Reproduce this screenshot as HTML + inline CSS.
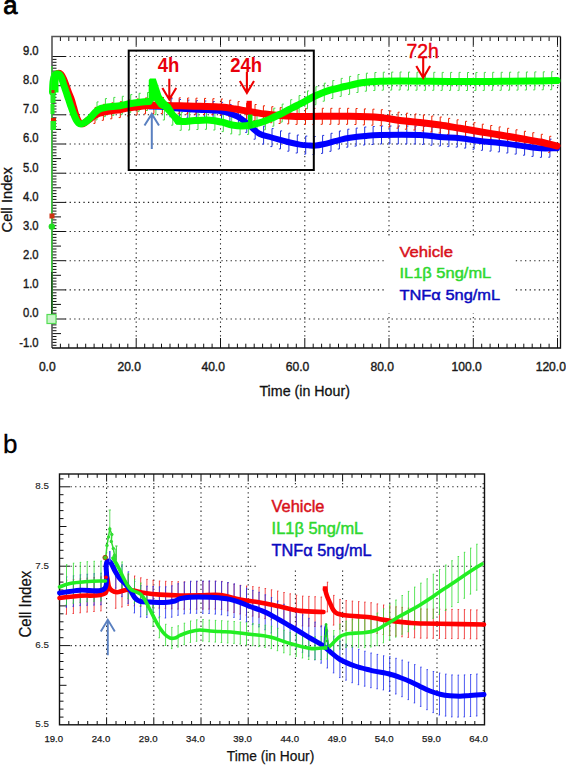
<!DOCTYPE html><html><head><meta charset="utf-8"><title>Cell Index</title><style>
html,body{margin:0;padding:0;background:#fff;}body{width:566px;height:765px;overflow:hidden;}
svg{display:block;}text{font-family:"Liberation Sans",sans-serif;}
</style></head><body>
<svg width="566" height="765" viewBox="0 0 566 765">
<rect width="566" height="765" fill="#fff"/>
<text x="3.2" y="13.8" font-size="25.5" fill="#000" stroke="#000" stroke-width="0.9">a</text>
<path d="M65,319 H560.5 M65,289.9 H560.5 M65,260.7 H560.5 M65,231.5 H560.5 M65,202.4 H560.5 M65,173.2 H560.5 M65,144 H560.5 M65,114.8 H560.5 M65,85.7 H560.5 M65,56.5 H560.5 M136.2,45.5 V338 M220.5,45.5 V338 M304.8,45.5 V338 M389,45.5 V338 M473.3,45.5 V338 M557.5,45.5 V338" stroke="#222" stroke-width="1.1" stroke-dasharray="1.3 3.3" fill="none"/>
<rect x="386" y="236" width="127" height="77" fill="#fff"/>
<path d="M60.4,36.5 v4.5 M60.4,348 v-4.3 M68.8,36.5 v4.5 M68.8,348 v-4.3 M77.3,36.5 v4.5 M77.3,348 v-4.3 M85.7,36.5 v4.5 M85.7,348 v-4.3 M94.1,36.5 v4.5 M94.1,348 v-4.3 M102.6,36.5 v4.5 M102.6,348 v-4.3 M111,36.5 v4.5 M111,348 v-4.3 M119.4,36.5 v4.5 M119.4,348 v-4.3 M127.8,36.5 v4.5 M127.8,348 v-4.3 M136.2,36.5 v9 M136.2,348 v-10 M144.7,36.5 v4.5 M144.7,348 v-4.3 M153.1,36.5 v4.5 M153.1,348 v-4.3 M161.5,36.5 v4.5 M161.5,348 v-4.3 M170,36.5 v4.5 M170,348 v-4.3 M178.4,36.5 v4.5 M178.4,348 v-4.3 M186.8,36.5 v4.5 M186.8,348 v-4.3 M195.2,36.5 v4.5 M195.2,348 v-4.3 M203.7,36.5 v4.5 M203.7,348 v-4.3 M212.1,36.5 v4.5 M212.1,348 v-4.3 M220.5,36.5 v9 M220.5,348 v-10 M228.9,36.5 v4.5 M228.9,348 v-4.3 M237.4,36.5 v4.5 M237.4,348 v-4.3 M245.8,36.5 v4.5 M245.8,348 v-4.3 M254.2,36.5 v4.5 M254.2,348 v-4.3 M262.6,36.5 v4.5 M262.6,348 v-4.3 M271.1,36.5 v4.5 M271.1,348 v-4.3 M279.5,36.5 v4.5 M279.5,348 v-4.3 M287.9,36.5 v4.5 M287.9,348 v-4.3 M296.3,36.5 v4.5 M296.3,348 v-4.3 M304.8,36.5 v9 M304.8,348 v-10 M313.2,36.5 v4.5 M313.2,348 v-4.3 M321.6,36.5 v4.5 M321.6,348 v-4.3 M330,36.5 v4.5 M330,348 v-4.3 M338.5,36.5 v4.5 M338.5,348 v-4.3 M346.9,36.5 v4.5 M346.9,348 v-4.3 M355.3,36.5 v4.5 M355.3,348 v-4.3 M363.7,36.5 v4.5 M363.7,348 v-4.3 M372.2,36.5 v4.5 M372.2,348 v-4.3 M380.6,36.5 v4.5 M380.6,348 v-4.3 M389,36.5 v9 M389,348 v-10 M397.4,36.5 v4.5 M397.4,348 v-4.3 M405.9,36.5 v4.5 M405.9,348 v-4.3 M414.3,36.5 v4.5 M414.3,348 v-4.3 M422.7,36.5 v4.5 M422.7,348 v-4.3 M431.1,36.5 v4.5 M431.1,348 v-4.3 M439.6,36.5 v4.5 M439.6,348 v-4.3 M448,36.5 v4.5 M448,348 v-4.3 M456.4,36.5 v4.5 M456.4,348 v-4.3 M464.8,36.5 v4.5 M464.8,348 v-4.3 M473.3,36.5 v9 M473.3,348 v-10 M481.7,36.5 v4.5 M481.7,348 v-4.3 M490.1,36.5 v4.5 M490.1,348 v-4.3 M498.5,36.5 v4.5 M498.5,348 v-4.3 M507,36.5 v4.5 M507,348 v-4.3 M515.4,36.5 v4.5 M515.4,348 v-4.3 M523.8,36.5 v4.5 M523.8,348 v-4.3 M532.2,36.5 v4.5 M532.2,348 v-4.3 M540.7,36.5 v4.5 M540.7,348 v-4.3 M549.1,36.5 v4.5 M549.1,348 v-4.3 M557.5,36.5 v9 M557.5,348 v-10 M52,345.3 h4.5 M52,342.4 h4.5 M52,339.4 h4.5 M52,336.5 h4.5 M52,333.6 h9 M52,330.7 h4.5 M52,327.8 h4.5 M52,324.9 h4.5 M52,321.9 h4.5 M52,319 h13.5 M52,316.1 h4.5 M52,313.2 h4.5 M52,310.3 h4.5 M52,307.4 h4.5 M52,304.4 h9 M52,301.5 h4.5 M52,298.6 h4.5 M52,295.7 h4.5 M52,292.8 h4.5 M52,289.9 h13.5 M52,286.9 h4.5 M52,284 h4.5 M52,281.1 h4.5 M52,278.2 h4.5 M52,275.3 h9 M52,272.4 h4.5 M52,269.4 h4.5 M52,266.5 h4.5 M52,263.6 h4.5 M52,260.7 h13.5 M52,257.8 h4.5 M52,254.9 h4.5 M52,251.9 h4.5 M52,249 h4.5 M52,246.1 h9 M52,243.2 h4.5 M52,240.3 h4.5 M52,237.4 h4.5 M52,234.4 h4.5 M52,231.5 h13.5 M52,228.6 h4.5 M52,225.7 h4.5 M52,222.8 h4.5 M52,219.9 h4.5 M52,216.9 h9 M52,214 h4.5 M52,211.1 h4.5 M52,208.2 h4.5 M52,205.3 h4.5 M52,202.4 h13.5 M52,199.4 h4.5 M52,196.5 h4.5 M52,193.6 h4.5 M52,190.7 h4.5 M52,187.8 h9 M52,184.8 h4.5 M52,181.9 h4.5 M52,179 h4.5 M52,176.1 h4.5 M52,173.2 h13.5 M52,170.3 h4.5 M52,167.3 h4.5 M52,164.4 h4.5 M52,161.5 h4.5 M52,158.6 h9 M52,155.7 h4.5 M52,152.8 h4.5 M52,149.8 h4.5 M52,146.9 h4.5 M52,144 h13.5 M52,141.1 h4.5 M52,138.2 h4.5 M52,135.3 h4.5 M52,132.3 h4.5 M52,129.4 h9 M52,126.5 h4.5 M52,123.6 h4.5 M52,120.7 h4.5 M52,117.8 h4.5 M52,114.8 h13.5 M52,111.9 h4.5 M52,109 h4.5 M52,106.1 h4.5 M52,103.2 h4.5 M52,100.3 h9 M52,97.3 h4.5 M52,94.4 h4.5 M52,91.5 h4.5 M52,88.6 h4.5 M52,85.7 h13.5 M52,82.8 h4.5 M52,79.8 h4.5 M52,76.9 h4.5 M52,74 h4.5 M52,71.1 h9 M52,68.2 h4.5 M52,65.3 h4.5 M52,62.3 h4.5 M52,59.4 h4.5 M52,56.5 h13.5" stroke="#111" stroke-width="1" fill="none"/>
<path d="M52,348 V36.5 H560.5" stroke="#555" stroke-width="1.6" fill="none"/>
<path d="M560.5,36.5 V348 H52" stroke="#111" stroke-width="1.3" fill="none"/>
<text transform="translate(38.6,346.5) scale(0.9,1)" font-size="12.5" fill="#1a1a1a" stroke="#1a1a1a" stroke-width="0.4" text-anchor="end">-1.0</text>
<text transform="translate(38.6,317.3) scale(0.9,1)" font-size="12.5" fill="#1a1a1a" stroke="#1a1a1a" stroke-width="0.4" text-anchor="end">0.0</text>
<text transform="translate(38.6,288.2) scale(0.9,1)" font-size="12.5" fill="#1a1a1a" stroke="#1a1a1a" stroke-width="0.4" text-anchor="end">1.0</text>
<text transform="translate(38.6,259) scale(0.9,1)" font-size="12.5" fill="#1a1a1a" stroke="#1a1a1a" stroke-width="0.4" text-anchor="end">2.0</text>
<text transform="translate(38.6,229.8) scale(0.9,1)" font-size="12.5" fill="#1a1a1a" stroke="#1a1a1a" stroke-width="0.4" text-anchor="end">3.0</text>
<text transform="translate(38.6,200.7) scale(0.9,1)" font-size="12.5" fill="#1a1a1a" stroke="#1a1a1a" stroke-width="0.4" text-anchor="end">4.0</text>
<text transform="translate(38.6,171.5) scale(0.9,1)" font-size="12.5" fill="#1a1a1a" stroke="#1a1a1a" stroke-width="0.4" text-anchor="end">5.0</text>
<text transform="translate(38.6,142.3) scale(0.9,1)" font-size="12.5" fill="#1a1a1a" stroke="#1a1a1a" stroke-width="0.4" text-anchor="end">6.0</text>
<text transform="translate(38.6,113.1) scale(0.9,1)" font-size="12.5" fill="#1a1a1a" stroke="#1a1a1a" stroke-width="0.4" text-anchor="end">7.0</text>
<text transform="translate(38.6,84) scale(0.9,1)" font-size="12.5" fill="#1a1a1a" stroke="#1a1a1a" stroke-width="0.4" text-anchor="end">8.0</text>
<text transform="translate(38.6,54.8) scale(0.9,1)" font-size="12.5" fill="#1a1a1a" stroke="#1a1a1a" stroke-width="0.4" text-anchor="end">9.0</text>
<text x="47.3" y="370.7" font-size="12.1" fill="#1a1a1a" stroke="#1a1a1a" stroke-width="0.4" text-anchor="middle">0.0</text>
<text x="129.2" y="370.7" font-size="12.1" fill="#1a1a1a" stroke="#1a1a1a" stroke-width="0.4" text-anchor="middle">20.0</text>
<text x="213.2" y="370.7" font-size="12.1" fill="#1a1a1a" stroke="#1a1a1a" stroke-width="0.4" text-anchor="middle">40.0</text>
<text x="297.6" y="370.7" font-size="12.1" fill="#1a1a1a" stroke="#1a1a1a" stroke-width="0.4" text-anchor="middle">60.0</text>
<text x="382.2" y="370.7" font-size="12.1" fill="#1a1a1a" stroke="#1a1a1a" stroke-width="0.4" text-anchor="middle">80.0</text>
<text x="466.6" y="370.7" font-size="12.1" fill="#1a1a1a" stroke="#1a1a1a" stroke-width="0.4" text-anchor="middle">100.0</text>
<text x="550.8" y="370.7" font-size="12.1" fill="#1a1a1a" stroke="#1a1a1a" stroke-width="0.4" text-anchor="middle">120.0</text>
<text x="304.7" y="395.7" font-size="14.6" fill="#111" stroke="#111" stroke-width="0.3" text-anchor="middle" textLength="90.5" lengthAdjust="spacingAndGlyphs">Time (in Hour)</text>
<text transform="translate(11.7,199.8) rotate(-90)" font-size="14.7" fill="#111" stroke="#111" stroke-width="0.3" text-anchor="middle">Cell Index</text>
<path d="M171,98.7 V116.7 M171,98.7 h1.6 M171,116.7 h-1.6 M179.4,99.5 V117.5 M179.4,99.5 h1.6 M179.4,117.5 h-1.6 M187.8,100.1 V118.1 M187.8,100.1 h1.6 M187.8,118.1 h-1.6 M196.3,100.6 V118.6 M196.3,100.6 h1.6 M196.3,118.6 h-1.6 M204.7,101 V119 M204.7,101 h1.6 M204.7,119 h-1.6 M213.1,101.5 V119.5 M213.1,101.5 h1.6 M213.1,119.5 h-1.6 M221.5,102.4 V120.4 M221.5,102.4 h1.6 M221.5,120.4 h-1.6 M229.9,104.5 V122.5 M229.9,104.5 h1.6 M229.9,122.5 h-1.6 M238.4,108.3 V126.3 M238.4,108.3 h1.6 M238.4,126.3 h-1.6 M246.8,114.4 V132.4 M246.8,114.4 h1.6 M246.8,132.4 h-1.6 M255.2,121.2 V139.2 M255.2,121.2 h1.6 M255.2,139.2 h-1.6 M263.6,126.1 V144.1 M263.6,126.1 h1.6 M263.6,144.1 h-1.6 M272,128.6 V146.6 M272,128.6 h1.6 M272,146.6 h-1.6 M280.5,130.9 V148.9 M280.5,130.9 h1.6 M280.5,148.9 h-1.6 M288.9,133.2 V151.2 M288.9,133.2 h1.6 M288.9,151.2 h-1.6 M297.3,135 V153 M297.3,135 h1.6 M297.3,153 h-1.6 M305.7,136.1 V154.1 M305.7,136.1 h1.6 M305.7,154.1 h-1.6 M314.1,136.5 V154.5 M314.1,136.5 h1.6 M314.1,154.5 h-1.6 M322.6,135.4 V153.4 M322.6,135.4 h1.6 M322.6,153.4 h-1.6 M331,133.3 V151.3 M331,133.3 h1.6 M331,151.3 h-1.6 M339.4,131 V149 M339.4,131 h1.6 M339.4,149 h-1.6 M347.8,129.2 V147.2 M347.8,129.2 h1.6 M347.8,147.2 h-1.6 M356.2,128.1 V146.1 M356.2,128.1 h1.6 M356.2,146.1 h-1.6 M364.7,127 V145 M364.7,127 h1.6 M364.7,145 h-1.6 M373.1,126.5 V144.5 M373.1,126.5 h1.6 M373.1,144.5 h-1.6 M381.5,126 V144 M381.5,126 h1.6 M381.5,144 h-1.6 M389.9,126 V144 M389.9,126 h1.6 M389.9,144 h-1.6 M398.3,126 V144 M398.3,126 h1.6 M398.3,144 h-1.6 M406.8,126 V144 M406.8,126 h1.6 M406.8,144 h-1.6 M415.2,126 V144 M415.2,126 h1.6 M415.2,144 h-1.6 M423.6,126.4 V144.4 M423.6,126.4 h1.6 M423.6,144.4 h-1.6 M432,127.2 V145.2 M432,127.2 h1.6 M432,145.2 h-1.6 M440.4,128 V146 M440.4,128 h1.6 M440.4,146 h-1.6 M448.9,128.6 V146.6 M448.9,128.6 h1.6 M448.9,146.6 h-1.6 M457.3,129.1 V147.1 M457.3,129.1 h1.6 M457.3,147.1 h-1.6 M465.7,130.1 V148.1 M465.7,130.1 h1.6 M465.7,148.1 h-1.6 M474.1,131.2 V149.2 M474.1,131.2 h1.6 M474.1,149.2 h-1.6 M482.5,132.3 V150.3 M482.5,132.3 h1.6 M482.5,150.3 h-1.6 M491,133.1 V151.1 M491,133.1 h1.6 M491,151.1 h-1.6 M499.4,133.9 V151.9 M499.4,133.9 h1.6 M499.4,151.9 h-1.6 M507.8,135 V153 M507.8,135 h1.6 M507.8,153 h-1.6 M516.2,136.1 V154.1 M516.2,136.1 h1.6 M516.2,154.1 h-1.6 M524.6,137.2 V155.2 M524.6,137.2 h1.6 M524.6,155.2 h-1.6 M533.1,138.4 V156.4 M533.1,138.4 h1.6 M533.1,156.4 h-1.6 M541.5,139.3 V157.3 M541.5,139.3 h1.6 M541.5,157.3 h-1.6 M549.9,139.2 V157.2 M549.9,139.2 h1.6 M549.9,157.2 h-1.6" stroke="#2233dd" stroke-width="1.0" fill="none" opacity="1.0"/>
<path d="M95,107.4 V123.4 M95,107.4 h1.6 M95,123.4 h-1.6 M103.4,104.3 V120.3 M103.4,104.3 h1.6 M103.4,120.3 h-1.6 M111.8,102.8 V118.8 M111.8,102.8 h1.6 M111.8,118.8 h-1.6 M120.3,101.6 V117.6 M120.3,101.6 h1.6 M120.3,117.6 h-1.6 M128.7,99.9 V115.9 M128.7,99.9 h1.6 M128.7,115.9 h-1.6 M137.1,98.9 V114.9 M137.1,98.9 h1.6 M137.1,114.9 h-1.6 M145.5,97.9 V113.9 M145.5,97.9 h1.6 M145.5,113.9 h-1.6 M153.9,97.5 V113.5 M153.9,97.5 h1.6 M153.9,113.5 h-1.6 M162.4,97.5 V113.5 M162.4,97.5 h1.6 M162.4,113.5 h-1.6 M170.8,97.6 V113.6 M170.8,97.6 h1.6 M170.8,113.6 h-1.6 M179.2,97.8 V113.8 M179.2,97.8 h1.6 M179.2,113.8 h-1.6 M187.6,98 V114 M187.6,98 h1.6 M187.6,114 h-1.6 M196,98.2 V114.2 M196,98.2 h1.6 M196,114.2 h-1.6 M204.5,98.4 V114.4 M204.5,98.4 h1.6 M204.5,114.4 h-1.6 M212.9,98.7 V114.7 M212.9,98.7 h1.6 M212.9,114.7 h-1.6 M221.3,99 V115 M221.3,99 h1.6 M221.3,115 h-1.6 M229.7,100.2 V116.2 M229.7,100.2 h1.6 M229.7,116.2 h-1.6 M238.1,101.6 V117.6 M238.1,101.6 h1.6 M238.1,117.6 h-1.6 M246.6,103.1 V119.1 M246.6,103.1 h1.6 M246.6,119.1 h-1.6 M255,104.5 V120.5 M255,104.5 h1.6 M255,120.5 h-1.6 M263.4,105.8 V121.8 M263.4,105.8 h1.6 M263.4,121.8 h-1.6 M271.8,106.7 V122.7 M271.8,106.7 h1.6 M271.8,122.7 h-1.6 M280.2,107.5 V123.5 M280.2,107.5 h1.6 M280.2,123.5 h-1.6 M288.7,107.9 V123.9 M288.7,107.9 h1.6 M288.7,123.9 h-1.6 M297.1,108.4 V124.4 M297.1,108.4 h1.6 M297.1,124.4 h-1.6 M305.5,108.4 V124.4 M305.5,108.4 h1.6 M305.5,124.4 h-1.6 M313.9,108.4 V124.4 M313.9,108.4 h1.6 M313.9,124.4 h-1.6 M322.3,108.3 V124.3 M322.3,108.3 h1.6 M322.3,124.3 h-1.6 M330.8,108.3 V124.3 M330.8,108.3 h1.6 M330.8,124.3 h-1.6 M339.2,108.3 V124.3 M339.2,108.3 h1.6 M339.2,124.3 h-1.6 M347.6,108.3 V124.3 M347.6,108.3 h1.6 M347.6,124.3 h-1.6 M356,108.5 V124.5 M356,108.5 h1.6 M356,124.5 h-1.6 M364.4,108.9 V124.9 M364.4,108.9 h1.6 M364.4,124.9 h-1.6 M372.9,109.2 V125.2 M372.9,109.2 h1.6 M372.9,125.2 h-1.6 M381.3,109.7 V125.7 M381.3,109.7 h1.6 M381.3,125.7 h-1.6 M389.7,111 V127 M389.7,111 h1.6 M389.7,127 h-1.6 M398.1,112.2 V128.2 M398.1,112.2 h1.6 M398.1,128.2 h-1.6 M406.5,113.2 V129.2 M406.5,113.2 h1.6 M406.5,129.2 h-1.6 M415,114 V130 M415,114 h1.6 M415,130 h-1.6 M423.4,114.9 V130.9 M423.4,114.9 h1.6 M423.4,130.9 h-1.6 M431.8,116 V132 M431.8,116 h1.6 M431.8,132 h-1.6 M440.2,117 V133 M440.2,117 h1.6 M440.2,133 h-1.6 M448.6,118.4 V134.4 M448.6,118.4 h1.6 M448.6,134.4 h-1.6 M457.1,119.8 V135.8 M457.1,119.8 h1.6 M457.1,135.8 h-1.6 M465.5,121.3 V137.3 M465.5,121.3 h1.6 M465.5,137.3 h-1.6 M473.9,122.7 V138.7 M473.9,122.7 h1.6 M473.9,138.7 h-1.6 M482.3,124.2 V140.2 M482.3,124.2 h1.6 M482.3,140.2 h-1.6 M490.7,125.5 V141.5 M490.7,125.5 h1.6 M490.7,141.5 h-1.6 M499.2,126.9 V142.9 M499.2,126.9 h1.6 M499.2,142.9 h-1.6 M507.6,128.3 V144.3 M507.6,128.3 h1.6 M507.6,144.3 h-1.6 M516,129.8 V145.8 M516,129.8 h1.6 M516,145.8 h-1.6 M524.4,131.3 V147.3 M524.4,131.3 h1.6 M524.4,147.3 h-1.6 M532.8,132.7 V148.7 M532.8,132.7 h1.6 M532.8,148.7 h-1.6 M541.3,134.3 V150.3 M541.3,134.3 h1.6 M541.3,150.3 h-1.6 M549.7,136.3 V152.3 M549.7,136.3 h1.6 M549.7,152.3 h-1.6" stroke="#ee2200" stroke-width="1.0" fill="none" opacity="1.0"/>
<path d="M97,101.9 V119.9 M97,101.9 h1.6 M97,119.9 h-1.6 M105.4,98.6 V116.6 M105.4,98.6 h1.6 M105.4,116.6 h-1.6 M113.8,97.4 V115.4 M113.8,97.4 h1.6 M113.8,115.4 h-1.6 M122.3,96.3 V114.3 M122.3,96.3 h1.6 M122.3,114.3 h-1.6 M130.7,94.6 V112.6 M130.7,94.6 h1.6 M130.7,112.6 h-1.6 M139.1,93.3 V111.3 M139.1,93.3 h1.6 M139.1,111.3 h-1.6 M147.5,92.5 V110.5 M147.5,92.5 h1.6 M147.5,110.5 h-1.6 M155.9,96.7 V114.7 M155.9,96.7 h1.6 M155.9,114.7 h-1.6 M164.4,102 V120 M164.4,102 h1.6 M164.4,120 h-1.6 M172.8,107.2 V125.2 M172.8,107.2 h1.6 M172.8,125.2 h-1.6 M181.2,112.3 V130.3 M181.2,112.3 h1.6 M181.2,130.3 h-1.6 M189.6,112 V130 M189.6,112 h1.6 M189.6,130 h-1.6 M198,111.5 V129.5 M198,111.5 h1.6 M198,129.5 h-1.6 M206.5,111.3 V129.3 M206.5,111.3 h1.6 M206.5,129.3 h-1.6 M214.9,112 V130 M214.9,112 h1.6 M214.9,130 h-1.6 M223.3,113.6 V131.6 M223.3,113.6 h1.6 M223.3,131.6 h-1.6 M231.7,115.9 V133.9 M231.7,115.9 h1.6 M231.7,133.9 h-1.6 M240.1,116.8 V134.8 M240.1,116.8 h1.6 M240.1,134.8 h-1.6 M248.6,116.4 V134.4 M248.6,116.4 h1.6 M248.6,134.4 h-1.6 M257,114.5 V132.5 M257,114.5 h1.6 M257,132.5 h-1.6 M265.4,111.8 V129.8 M265.4,111.8 h1.6 M265.4,129.8 h-1.6 M273.8,108.2 V126.2 M273.8,108.2 h1.6 M273.8,126.2 h-1.6 M282.2,104.1 V122.1 M282.2,104.1 h1.6 M282.2,122.1 h-1.6 M290.7,99.7 V117.7 M290.7,99.7 h1.6 M290.7,117.7 h-1.6 M299.1,95.5 V113.5 M299.1,95.5 h1.6 M299.1,113.5 h-1.6 M307.5,90.9 V108.9 M307.5,90.9 h1.6 M307.5,108.9 h-1.6 M315.9,86.7 V104.7 M315.9,86.7 h1.6 M315.9,104.7 h-1.6 M324.3,83.2 V101.2 M324.3,83.2 h1.6 M324.3,101.2 h-1.6 M332.8,80.5 V98.5 M332.8,80.5 h1.6 M332.8,98.5 h-1.6 M341.2,78.4 V96.4 M341.2,78.4 h1.6 M341.2,96.4 h-1.6 M349.6,76.4 V94.4 M349.6,76.4 h1.6 M349.6,94.4 h-1.6 M358,74.5 V92.5 M358,74.5 h1.6 M358,92.5 h-1.6 M366.4,73.2 V91.2 M366.4,73.2 h1.6 M366.4,91.2 h-1.6 M374.9,72.5 V90.5 M374.9,72.5 h1.6 M374.9,90.5 h-1.6 M383.3,72.2 V90.2 M383.3,72.2 h1.6 M383.3,90.2 h-1.6 M391.7,72.1 V90.1 M391.7,72.1 h1.6 M391.7,90.1 h-1.6 M400.1,72 V90 M400.1,72 h1.6 M400.1,90 h-1.6 M408.5,72.1 V90.1 M408.5,72.1 h1.6 M408.5,90.1 h-1.6 M417,72.2 V90.2 M417,72.2 h1.6 M417,90.2 h-1.6 M425.4,72.3 V90.3 M425.4,72.3 h1.6 M425.4,90.3 h-1.6 M433.8,72.3 V90.3 M433.8,72.3 h1.6 M433.8,90.3 h-1.6 M442.2,72.4 V90.4 M442.2,72.4 h1.6 M442.2,90.4 h-1.6 M450.6,72.4 V90.4 M450.6,72.4 h1.6 M450.6,90.4 h-1.6 M459.1,72.4 V90.4 M459.1,72.4 h1.6 M459.1,90.4 h-1.6 M467.5,72.5 V90.5 M467.5,72.5 h1.6 M467.5,90.5 h-1.6 M475.9,72.5 V90.5 M475.9,72.5 h1.6 M475.9,90.5 h-1.6 M484.3,72.4 V90.4 M484.3,72.4 h1.6 M484.3,90.4 h-1.6 M492.7,72.3 V90.3 M492.7,72.3 h1.6 M492.7,90.3 h-1.6 M501.2,72.3 V90.3 M501.2,72.3 h1.6 M501.2,90.3 h-1.6 M509.6,72.2 V90.2 M509.6,72.2 h1.6 M509.6,90.2 h-1.6 M518,72.1 V90.1 M518,72.1 h1.6 M518,90.1 h-1.6 M526.4,72 V90 M526.4,72 h1.6 M526.4,90 h-1.6 M534.8,71.9 V89.9 M534.8,71.9 h1.6 M534.8,89.9 h-1.6 M543.3,71.8 V89.8 M543.3,71.8 h1.6 M543.3,89.8 h-1.6 M551.7,71.7 V89.7 M551.7,71.7 h1.6 M551.7,89.7 h-1.6" stroke="#44dd44" stroke-width="1.0" fill="none" opacity="1.0"/>
<path d="M150,106.5 C152.5,106.6 160.8,106.7 165,107 C169.2,107.3 170.8,107.8 175,108.2 C179.2,108.6 185,109 190,109.3 C195,109.6 200,109.7 205,110 C210,110.3 215.8,110.4 220,111 C224.2,111.6 226.7,112.3 230,113.5 C233.3,114.7 236.7,115.9 240,118 C243.3,120.1 246.7,123.3 250,126 C253.3,128.7 256.7,132.2 260,134 C263.3,135.8 266.7,136 270,137 C273.3,138 276.7,138.9 280,139.8 C283.3,140.7 286.7,141.7 290,142.5 C293.3,143.3 296.7,144.1 300,144.6 C303.3,145.1 307.3,145.3 310,145.5 C312.7,145.7 314,145.7 316,145.5 C318,145.3 319.7,145 322,144.5 C324.3,144 327,143.4 330,142.6 C333,141.8 336.7,140.6 340,139.8 C343.3,139 345.8,138.4 350,137.8 C354.2,137.2 360,136.5 365,136 C370,135.5 370.8,135.2 380,135 C389.2,134.8 410,134.7 420,135 C430,135.3 433.3,136.4 440,137 C446.7,137.6 453.3,137.6 460,138.3 C466.7,139 473.3,140.2 480,141 C486.7,141.8 493.3,142.2 500,143 C506.7,143.8 513.3,144.7 520,145.6 C526.7,146.5 533.8,147.9 540,148.3 C546.2,148.7 554.2,148.2 557,148.2" stroke="#0000ff" stroke-width="6" fill="none" stroke-linejoin="round" stroke-linecap="round"/>
<path d="M54,85 C54.2,83.7 54.8,78.9 55.5,77 C56.2,75.1 57.1,73.9 58,73.5 C58.9,73.1 60.1,73.6 61,74.5 C61.9,75.4 62.7,77.2 63.5,79 C64.3,80.8 65.2,83.2 66,85.5 C66.8,87.8 67.6,90.1 68.5,92.5 C69.4,94.9 70.7,97.6 71.5,100 C72.3,102.4 72.8,104.7 73.5,107 C74.2,109.3 74.8,111.9 75.5,114 C76.2,116.1 76.8,118 77.5,119.5 C78.2,121 79,122.3 80,123 C81,123.7 82.3,123.8 83.5,123.5 C84.7,123.2 85.9,121.8 87,121 C88.1,120.2 89,119.8 90,119 C91,118.2 91.8,117.3 93,116.5 C94.2,115.7 95.7,114.9 97,114.3 C98.3,113.7 98.8,113.3 101,112.8 C103.2,112.2 106.8,111.5 110,111 C113.2,110.5 117,110.2 120,109.7 C123,109.2 124.7,108.5 128,108 C131.3,107.5 136.3,106.9 140,106.5 C143.7,106.1 145.8,105.7 150,105.5 C154.2,105.3 160,105.5 165,105.5 C170,105.5 174.2,105.7 180,105.8 C185.8,105.9 193.2,106.1 200,106.3 C206.8,106.5 215.2,106.5 221,107 C226.8,107.5 230.8,108.3 235,109 C239.2,109.7 242.7,110.4 246,111 C249.3,111.6 251.8,112 255,112.5 C258.2,113 260.8,113.5 265,114 C269.2,114.5 274.2,115.1 280,115.5 C285.8,115.9 293.3,116.4 300,116.5 C306.7,116.6 311.7,116.3 320,116.3 C328.3,116.3 340,116.1 350,116.3 C360,116.5 371.7,116.8 380,117.5 C388.3,118.2 393.3,119.7 400,120.5 C406.7,121.3 413.3,121.8 420,122.5 C426.7,123.2 433.3,124 440,125 C446.7,126 453.3,127.2 460,128.3 C466.7,129.4 473.3,130.7 480,131.8 C486.7,132.9 493.3,133.9 500,135 C506.7,136.1 513.3,137.3 520,138.5 C526.7,139.7 533.8,140.8 540,142 C546.2,143.2 554.2,145.3 557,146" stroke="#ff0000" stroke-width="7" fill="none" stroke-linejoin="round" stroke-linecap="round"/>
<rect x="246.6" y="100.8" width="5.2" height="12" fill="#ff0000"/>
<path d="M52.5,92 C52.6,90.3 52.7,84.8 53,82 C53.3,79.2 53.8,76.9 54.5,75.5 C55.2,74.1 56.2,74 57,73.8 C57.8,73.6 58.8,73.8 59.5,74.5 C60.2,75.2 60.8,76.4 61.5,78 C62.2,79.6 62.8,81.8 63.5,84 C64.2,86.2 65.2,89 66,91.5 C66.8,94 67.7,96.5 68.5,99 C69.3,101.5 70.2,104.1 71,106.5 C71.8,108.9 72.7,111.3 73.5,113.5 C74.3,115.7 75.2,117.9 76,119.5 C76.8,121.1 77.7,122.2 78.5,123 C79.3,123.8 80.1,124 81,124 C81.9,124 82.9,123.6 84,123 C85.1,122.4 86.3,121.5 87.5,120.5 C88.7,119.5 89.8,118.3 91,117 C92.2,115.7 93.7,113.8 95,112.5 C96.3,111.2 97.5,110.1 99,109.3 C100.5,108.5 101.8,108.2 104,107.8 C106.2,107.3 109.3,106.9 112,106.6 C114.7,106.3 117.3,106.2 120,105.8 C122.7,105.4 124.7,104.6 128,104 C131.3,103.4 136.5,102.6 140,102.2 C143.5,101.8 147.5,101.5 149,101.4" stroke="#00ff00" stroke-width="7" fill="none" stroke-linejoin="round" stroke-linecap="round"/>
<path d="M178,121 C178.5,121 180,121.2 181,121.3 C182,121.4 181.7,121.6 184,121.5 C186.3,121.4 190.7,120.8 195,120.6 C199.3,120.4 205.5,119.9 210,120.2 C214.5,120.5 218.3,121.4 222,122.2 C225.7,123 228.7,124.4 232,125 C235.3,125.6 239,126 242,126 C245,126 247.3,125.8 250,125.3 C252.7,124.8 255.5,123.9 258,123.2 C260.5,122.5 262.7,121.9 265,121 C267.3,120.1 269.5,119.1 272,118 C274.5,116.9 277.8,115.3 280,114.3 C282.2,113.2 283,112.8 285,111.7 C287,110.7 289.5,109.3 292,108 C294.5,106.7 297.5,105.3 300,104 C302.5,102.7 304.7,101.5 307,100.2 C309.3,99 311.5,97.7 314,96.5 C316.5,95.3 319.3,94 322,93 C324.7,92 326.2,91.3 330,90.2 C333.8,89.1 340,87.7 345,86.5 C350,85.3 355.8,83.8 360,83 C364.2,82.2 366.7,82.1 370,81.8 C373.3,81.5 375,81.3 380,81.2 C385,81.1 391.7,81 400,81 C408.3,81 418.3,81.2 430,81.3 C441.7,81.4 458.3,81.5 470,81.5 C481.7,81.5 490,81.4 500,81.3 C510,81.2 520.5,81.1 530,81 C539.5,80.9 552.5,80.7 557,80.6" stroke="#00ff00" stroke-width="7" fill="none" stroke-linejoin="round" stroke-linecap="round"/>
<rect x="248" y="114.5" width="4.5" height="13.5" fill="#00ee00"/>
<path d="M148.5,104 L148.8,80 L150,78.4 L155.8,78.4 L161.5,95.5 L166,101 L170.3,104.5 L175.6,113 L181,117.5 L181,124.5 L176.5,124.8 L170.3,117 L164,110 L158.9,107.1 L154,100.5 L151,104 Z" fill="#00ff00"/>
<path d="M51.8,319 V66" stroke="#33dd33" stroke-width="1.3"/>
<path d="M51.8,319 V272" stroke="#1a5a1a" stroke-width="1.5"/>
<rect x="47" y="314.5" width="9" height="9" fill="#c8f5c8" stroke="#55dd55" stroke-width="1.2"/>
<rect x="49.5" y="213.5" width="5" height="5" fill="#cc3311"/>
<circle cx="51.8" cy="226.6" r="3.2" fill="#22dd22"/>
<rect x="51.5" y="73.5" width="7" height="19" fill="#00ff00"/>
<rect x="50.5" y="93" width="5" height="10" fill="#22ee22"/>
<rect x="50.5" y="104" width="4" height="10" fill="#22ee22"/>
<rect x="50.5" y="121" width="5.5" height="9" fill="#22ee22"/>
<rect x="51.5" y="90" width="3" height="3" fill="#c03010"/>
<rect x="51" y="118" width="5" height="3" fill="#dd2200"/>
<rect x="128.7" y="50.6" width="185.1" height="119.4" fill="none" stroke="#000" stroke-width="2"/>
<text x="157.8" y="71.8" font-size="19.3" font-weight="bold" fill="#e8000b" textLength="21.6" lengthAdjust="spacingAndGlyphs">4h</text>
<text x="230.2" y="71.6" font-size="19.3" font-weight="bold" fill="#e8000b" textLength="31.8" lengthAdjust="spacingAndGlyphs">24h</text>
<text x="406.4" y="57.9" font-size="19.3" fill="#e8000b" stroke="#e8000b" stroke-width="0.4" textLength="32.4" lengthAdjust="spacingAndGlyphs">72h</text>
<path d="M169.3,78.7 V99.5 M162.4,88 L169.3,99.5 L176.2,88" stroke="#ee0000" stroke-width="2.1" fill="none" stroke-linejoin="miter"/>
<path d="M246.9,72 V93 M239.8,81 L246.9,93 L254,81" stroke="#ee0000" stroke-width="2.1" fill="none" stroke-linejoin="miter"/>
<path d="M423.2,58 V78 M416.3,66 L423.2,78 L430.1,66" stroke="#ee0000" stroke-width="2.1" fill="none" stroke-linejoin="miter"/>
<path d="M151.8,149 V114 M144.5,125.5 L151.8,114 L159,125.5" stroke="#5a80c0" stroke-width="2" fill="none"/>
<text x="399.4" y="256.7" font-size="15" fill="#d8101a" stroke="#d8101a" stroke-width="0.45" textLength="53.6" lengthAdjust="spacingAndGlyphs">Vehicle</text>
<text x="399.4" y="278.2" font-size="15" fill="#2ed82e" stroke="#2ed82e" stroke-width="0.45" textLength="91.9" lengthAdjust="spacingAndGlyphs">IL1β 5ng/mL</text>
<text x="399.4" y="299.7" font-size="15" fill="#0a0ac0" stroke="#0a0ac0" stroke-width="0.45" textLength="100.8" lengthAdjust="spacingAndGlyphs">TNFα 5ng/mL</text>
<text x="3" y="452.9" font-size="26" fill="#000" stroke="#000" stroke-width="0.3">b</text>
<path d="M70.5,486.8 H484.5 M70.5,566.2 H484.5 M70.5,645.6 H484.5 M106.6,483 V715.8 M153.8,483 V715.8 M201,483 V715.8 M248.2,483 V715.8 M295.4,483 V715.8 M342.6,483 V715.8 M389.8,483 V715.8 M437,483 V715.8 M483.2,483 V715.8" stroke="#222" stroke-width="1.1" stroke-dasharray="1.3 3.3" fill="none"/>
<rect x="256" y="488" width="132" height="81" fill="#fff"/>
<path d="M68.8,474 v3.8 M68.8,724.8 v-3.8 M78.3,474 v3.8 M78.3,724.8 v-3.8 M87.7,474 v3.8 M87.7,724.8 v-3.8 M97.2,474 v3.8 M97.2,724.8 v-3.8 M106.6,474 v7.5 M106.6,724.8 v-7.5 M116,474 v3.8 M116,724.8 v-3.8 M125.5,474 v3.8 M125.5,724.8 v-3.8 M134.9,474 v3.8 M134.9,724.8 v-3.8 M144.4,474 v3.8 M144.4,724.8 v-3.8 M153.8,474 v7.5 M153.8,724.8 v-7.5 M163.2,474 v3.8 M163.2,724.8 v-3.8 M172.7,474 v3.8 M172.7,724.8 v-3.8 M182.1,474 v3.8 M182.1,724.8 v-3.8 M191.6,474 v3.8 M191.6,724.8 v-3.8 M201,474 v7.5 M201,724.8 v-7.5 M210.4,474 v3.8 M210.4,724.8 v-3.8 M219.9,474 v3.8 M219.9,724.8 v-3.8 M229.3,474 v3.8 M229.3,724.8 v-3.8 M238.8,474 v3.8 M238.8,724.8 v-3.8 M248.2,474 v7.5 M248.2,724.8 v-7.5 M257.6,474 v3.8 M257.6,724.8 v-3.8 M267.1,474 v3.8 M267.1,724.8 v-3.8 M276.5,474 v3.8 M276.5,724.8 v-3.8 M286,474 v3.8 M286,724.8 v-3.8 M295.4,474 v7.5 M295.4,724.8 v-7.5 M304.8,474 v3.8 M304.8,724.8 v-3.8 M314.3,474 v3.8 M314.3,724.8 v-3.8 M323.7,474 v3.8 M323.7,724.8 v-3.8 M333.2,474 v3.8 M333.2,724.8 v-3.8 M342.6,474 v7.5 M342.6,724.8 v-7.5 M352,474 v3.8 M352,724.8 v-3.8 M361.5,474 v3.8 M361.5,724.8 v-3.8 M370.9,474 v3.8 M370.9,724.8 v-3.8 M380.4,474 v3.8 M380.4,724.8 v-3.8 M389.8,474 v7.5 M389.8,724.8 v-7.5 M399.2,474 v3.8 M399.2,724.8 v-3.8 M408.7,474 v3.8 M408.7,724.8 v-3.8 M418.1,474 v3.8 M418.1,724.8 v-3.8 M427.6,474 v3.8 M427.6,724.8 v-3.8 M437,474 v7.5 M437,724.8 v-7.5 M446.4,474 v3.8 M446.4,724.8 v-3.8 M455.9,474 v3.8 M455.9,724.8 v-3.8 M465.3,474 v3.8 M465.3,724.8 v-3.8 M474.8,474 v3.8 M474.8,724.8 v-3.8 M59.5,717.1 h4 M59.5,709.1 h4 M59.5,701.2 h4 M59.5,693.2 h4 M59.5,685.3 h7 M59.5,677.4 h4 M59.5,669.4 h4 M59.5,661.5 h4 M59.5,653.5 h4 M59.5,645.6 h10.5 M59.5,637.7 h4 M59.5,629.7 h4 M59.5,621.8 h4 M59.5,613.8 h4 M59.5,605.9 h7 M59.5,598 h4 M59.5,590 h4 M59.5,582.1 h4 M59.5,574.1 h4 M59.5,566.2 h10.5 M59.5,558.3 h4 M59.5,550.3 h4 M59.5,542.4 h4 M59.5,534.4 h4 M59.5,526.5 h7 M59.5,518.6 h4 M59.5,510.6 h4 M59.5,502.7 h4 M59.5,494.7 h4 M59.5,486.8 h10.5 M59.5,478.9 h4" stroke="#111" stroke-width="1" fill="none"/>
<rect x="59.5" y="474" width="425" height="250.8" fill="none" stroke="#111" stroke-width="1.4"/>
<text x="48.9" y="489.2" font-size="9.8" fill="#222" stroke="#222" stroke-width="0.1" text-anchor="end">8.5</text>
<text x="48.9" y="568.6" font-size="9.8" fill="#222" stroke="#222" stroke-width="0.1" text-anchor="end">7.5</text>
<text x="48.9" y="648" font-size="9.8" fill="#222" stroke="#222" stroke-width="0.1" text-anchor="end">6.5</text>
<text x="48.9" y="727.4" font-size="9.8" fill="#222" stroke="#222" stroke-width="0.1" text-anchor="end">5.5</text>
<text x="53.8" y="741.7" font-size="9.6" fill="#1a1a1a" stroke="#1a1a1a" stroke-width="0.25" text-anchor="middle">19.0</text>
<text x="101" y="741.7" font-size="9.6" fill="#1a1a1a" stroke="#1a1a1a" stroke-width="0.25" text-anchor="middle">24.0</text>
<text x="148.2" y="741.7" font-size="9.6" fill="#1a1a1a" stroke="#1a1a1a" stroke-width="0.25" text-anchor="middle">29.0</text>
<text x="195.4" y="741.7" font-size="9.6" fill="#1a1a1a" stroke="#1a1a1a" stroke-width="0.25" text-anchor="middle">34.0</text>
<text x="242.6" y="741.7" font-size="9.6" fill="#1a1a1a" stroke="#1a1a1a" stroke-width="0.25" text-anchor="middle">39.0</text>
<text x="289.8" y="741.7" font-size="9.6" fill="#1a1a1a" stroke="#1a1a1a" stroke-width="0.25" text-anchor="middle">44.0</text>
<text x="337" y="741.7" font-size="9.6" fill="#1a1a1a" stroke="#1a1a1a" stroke-width="0.25" text-anchor="middle">49.0</text>
<text x="384.2" y="741.7" font-size="9.6" fill="#1a1a1a" stroke="#1a1a1a" stroke-width="0.25" text-anchor="middle">54.0</text>
<text x="431.4" y="741.7" font-size="9.6" fill="#1a1a1a" stroke="#1a1a1a" stroke-width="0.25" text-anchor="middle">59.0</text>
<text x="478.6" y="741.7" font-size="9.6" fill="#1a1a1a" stroke="#1a1a1a" stroke-width="0.25" text-anchor="middle">64.0</text>
<text x="270.5" y="760.7" font-size="14.8" fill="#111" stroke="#111" stroke-width="0.25" text-anchor="middle" textLength="87.5" lengthAdjust="spacingAndGlyphs">Time (in Hour)</text>
<text transform="translate(31.2,604.1) rotate(-90)" font-size="17.3" fill="#111" stroke="#111" stroke-width="0.25" text-anchor="middle" textLength="67" lengthAdjust="spacingAndGlyphs">Cell Index</text>
<path d="M66.5,580.2 V614.2 M66,580.2 h1.4 M67,614.2 h-1.4 M73.4,579.5 V613.5 M72.9,579.5 h1.4 M73.9,613.5 h-1.4 M80.3,578.8 V612.8 M79.8,578.8 h1.4 M80.8,612.8 h-1.4 M87.2,578.1 V612.1 M86.7,578.1 h1.4 M87.7,612.1 h-1.4 M94.1,577.5 V611.5 M93.6,577.5 h1.4 M94.6,611.5 h-1.4 M101,576.9 V610.9 M100.5,576.9 h1.4 M101.5,610.9 h-1.4 M115.8,575.3 V608.3 M115.3,575.3 h1.4 M116.3,608.3 h-1.4 M122,575.1 V607 M121.5,575.1 h1.4 M122.5,607 h-1.4 M128.2,574.6 V605.4 M127.8,574.6 h1.4 M128.8,605.4 h-1.4 M134.5,576 V605.8 M134,576 h1.4 M135,605.8 h-1.4 M140.7,577.8 V606.5 M140.2,577.8 h1.4 M141.2,606.5 h-1.4 M146.9,579.4 V607 M146.4,579.4 h1.4 M147.4,607 h-1.4 M153.1,580.3 V607.4 M152.6,580.3 h1.4 M153.6,607.4 h-1.4 M159.4,581 V608.1 M158.9,581 h1.4 M159.9,608.1 h-1.4 M165.6,581.3 V608.4 M165.1,581.3 h1.4 M166.1,608.4 h-1.4 M171.8,581.5 V608.8 M171.3,581.5 h1.4 M172.3,608.8 h-1.4 M178.1,581.7 V609.1 M177.6,581.7 h1.4 M178.6,609.1 h-1.4 M184.3,581.8 V609.2 M183.8,581.8 h1.4 M184.8,609.2 h-1.4 M190.5,581.7 V609.2 M190,581.7 h1.4 M191,609.2 h-1.4 M196.7,581.6 V609.2 M196.2,581.6 h1.4 M197.2,609.2 h-1.4 M202.9,581.5 V609.2 M202.4,581.5 h1.4 M203.4,609.2 h-1.4 M209.2,581.3 V609.1 M208.7,581.3 h1.4 M209.7,609.1 h-1.4 M215.4,581.2 V609 M214.9,581.2 h1.4 M215.9,609 h-1.4 M221.6,581.4 V609.3 M221.1,581.4 h1.4 M222.1,609.3 h-1.4 M227.8,582.8 V610.8 M227.3,582.8 h1.4 M228.3,610.8 h-1.4 M234.1,584.1 V612.4 M233.6,584.1 h1.4 M234.6,612.4 h-1.4 M240.3,585.3 V614 M239.8,585.3 h1.4 M240.8,614 h-1.4 M246.5,586 V615.1 M246,586 h1.4 M247,615.1 h-1.4 M252.8,586.6 V616.1 M252.2,586.6 h1.4 M253.2,616.1 h-1.4 M259,587.3 V617.2 M258.5,587.3 h1.4 M259.5,617.2 h-1.4 M265.2,588.5 V618.5 M264.7,588.5 h1.4 M265.7,618.5 h-1.4 M271.4,589.8 V619.8 M270.9,589.8 h1.4 M271.9,619.8 h-1.4 M277.6,591.1 V621.1 M277.1,591.1 h1.4 M278.1,621.1 h-1.4 M283.9,592.5 V622.4 M283.4,592.5 h1.4 M284.4,622.4 h-1.4 M290.1,593.8 V623.7 M289.6,593.8 h1.4 M290.6,623.7 h-1.4 M296.3,595.2 V625 M295.8,595.2 h1.4 M296.8,625 h-1.4 M302.6,596.1 V625.9 M302.1,596.1 h1.4 M303.1,625.9 h-1.4 M308.8,596.4 V626.2 M308.3,596.4 h1.4 M309.3,626.2 h-1.4 M315,596.7 V626.5 M314.5,596.7 h1.4 M315.5,626.5 h-1.4 M321.2,597 V626.8 M320.7,597 h1.4 M321.7,626.8 h-1.4 M327.4,582.2 V611.9 M326.9,582.2 h1.4 M327.9,611.9 h-1.4 M333.7,595.4 V625.1 M333.2,595.4 h1.4 M334.2,625.1 h-1.4 M339.9,599.4 V629.1 M339.4,599.4 h1.4 M340.4,629.1 h-1.4 M346.1,600.6 V630.2 M345.6,600.6 h1.4 M346.6,630.2 h-1.4 M352.3,601.1 V630.7 M351.8,601.1 h1.4 M352.8,630.7 h-1.4 M358.6,601.6 V631.2 M358.1,601.6 h1.4 M359.1,631.2 h-1.4 M364.8,602.1 V631.6 M364.3,602.1 h1.4 M365.3,631.6 h-1.4 M371,602.7 V632.2 M370.5,602.7 h1.4 M371.5,632.2 h-1.4 M377.2,603.9 V633.4 M376.8,603.9 h1.4 M377.8,633.4 h-1.4 M383.5,605 V634.5 M383,605 h1.4 M384,634.5 h-1.4 M389.7,606 V635.5 M389.2,606 h1.4 M390.2,635.5 h-1.4 M395.9,606.8 V636.1 M395.4,606.8 h1.4 M396.4,636.1 h-1.4 M402.1,607.4 V636.8 M401.6,607.4 h1.4 M402.6,636.8 h-1.4 M408.4,608.1 V637.4 M407.9,608.1 h1.4 M408.9,637.4 h-1.4 M414.6,608.5 V637.8 M414.1,608.5 h1.4 M415.1,637.8 h-1.4 M420.8,608.9 V638.2 M420.3,608.9 h1.4 M421.3,638.2 h-1.4 M427.1,609 V638.2 M426.6,609 h1.4 M427.6,638.2 h-1.4 M433.3,609.1 V638.3 M432.8,609.1 h1.4 M433.8,638.3 h-1.4 M439.5,609.2 V638.4 M439,609.2 h1.4 M440,638.4 h-1.4 M445.7,609.3 V638.5 M445.2,609.3 h1.4 M446.2,638.5 h-1.4 M451.9,609.4 V638.6 M451.4,609.4 h1.4 M452.4,638.6 h-1.4 M458.2,609.5 V638.6 M457.7,609.5 h1.4 M458.7,638.6 h-1.4 M464.4,609.6 V638.7 M463.9,609.6 h1.4 M464.9,638.7 h-1.4 M470.6,609.8 V638.8 M470.1,609.8 h1.4 M471.1,638.8 h-1.4 M476.8,609.9 V638.9 M476.3,609.9 h1.4 M477.3,638.9 h-1.4" stroke="#ee2020" stroke-width="1.0" fill="none" opacity="0.8"/>
<path d="M66.5,576.9 V607.2 M66,576.9 h1.4 M67,607.2 h-1.4 M73.4,575.8 V606.4 M72.9,575.8 h1.4 M73.9,606.4 h-1.4 M80.3,574.8 V605.6 M79.8,574.8 h1.4 M80.8,605.6 h-1.4 M87.2,574.2 V605.3 M86.7,574.2 h1.4 M87.7,605.3 h-1.4 M94.1,573.7 V605.1 M93.6,573.7 h1.4 M94.6,605.1 h-1.4 M101,573.2 V604.8 M100.5,573.2 h1.4 M101.5,604.8 h-1.4 M115.8,556.3 V588.2 M115.3,556.3 h1.4 M116.3,588.2 h-1.4 M122,564.8 V596.6 M121.5,564.8 h1.4 M122.5,596.6 h-1.4 M128.2,571.8 V603.4 M127.8,571.8 h1.4 M128.8,603.4 h-1.4 M134.5,581.4 V612.9 M134,581.4 h1.4 M135,612.9 h-1.4 M140.7,585.7 V617 M140.2,585.7 h1.4 M141.2,617 h-1.4 M146.9,586.2 V617.4 M146.4,586.2 h1.4 M147.4,617.4 h-1.4 M153.1,586.5 V617.7 M152.6,586.5 h1.4 M153.6,617.7 h-1.4 M159.4,586.8 V617.8 M158.9,586.8 h1.4 M159.9,617.8 h-1.4 M165.6,586.8 V618 M165.1,586.8 h1.4 M166.1,618 h-1.4 M171.8,585.8 V617.2 M171.3,585.8 h1.4 M172.3,617.2 h-1.4 M178.1,583.7 V615.3 M177.6,583.7 h1.4 M178.6,615.3 h-1.4 M184.3,582.1 V613.9 M183.8,582.1 h1.4 M184.8,613.9 h-1.4 M190.5,581.2 V613.2 M190,581.2 h1.4 M191,613.2 h-1.4 M196.7,581.1 V613.3 M196.2,581.1 h1.4 M197.2,613.3 h-1.4 M202.9,581 V613.4 M202.4,581 h1.4 M203.4,613.4 h-1.4 M209.2,580.9 V613.5 M208.7,580.9 h1.4 M209.7,613.5 h-1.4 M215.4,581.2 V614.1 M214.9,581.2 h1.4 M215.9,614.1 h-1.4 M221.6,581.7 V614.8 M221.1,581.7 h1.4 M222.1,614.8 h-1.4 M227.8,582.5 V615.7 M227.3,582.5 h1.4 M228.3,615.7 h-1.4 M234.1,583.9 V617.4 M233.6,583.9 h1.4 M234.6,617.4 h-1.4 M240.3,585.7 V619.4 M239.8,585.7 h1.4 M240.8,619.4 h-1.4 M246.5,588.1 V622 M246,588.1 h1.4 M247,622 h-1.4 M252.8,590.4 V624.6 M252.2,590.4 h1.4 M253.2,624.6 h-1.4 M259,592.3 V626.9 M258.5,592.3 h1.4 M259.5,626.9 h-1.4 M265.2,594.8 V629.8 M264.7,594.8 h1.4 M265.7,629.8 h-1.4 M271.4,597.6 V633 M270.9,597.6 h1.4 M271.9,633 h-1.4 M277.6,601 V636.8 M277.1,601 h1.4 M278.1,636.8 h-1.4 M283.9,604.3 V640.6 M283.4,604.3 h1.4 M284.4,640.6 h-1.4 M290.1,607.7 V644.4 M289.6,607.7 h1.4 M290.6,644.4 h-1.4 M296.3,611.3 V648.3 M295.8,611.3 h1.4 M296.8,648.3 h-1.4 M302.6,614.8 V652.3 M302.1,614.8 h1.4 M303.1,652.3 h-1.4 M308.8,618.3 V656.2 M308.3,618.3 h1.4 M309.3,656.2 h-1.4 M315,622.1 V659.8 M314.5,622.1 h1.4 M315.5,659.8 h-1.4 M321.2,625.9 V663.2 M320.7,625.9 h1.4 M321.7,663.2 h-1.4 M327.4,631 V668 M326.9,631 h1.4 M327.9,668 h-1.4 M333.7,636.1 V672.9 M333.2,636.1 h1.4 M334.2,672.9 h-1.4 M339.9,641.2 V677.6 M339.4,641.2 h1.4 M340.4,677.6 h-1.4 M346.1,644.1 V680.2 M345.6,644.1 h1.4 M346.6,680.2 h-1.4 M352.3,647 V682.7 M351.8,647 h1.4 M352.8,682.7 h-1.4 M358.6,649.3 V684.7 M358.1,649.3 h1.4 M359.1,684.7 h-1.4 M364.8,651.2 V686.2 M364.3,651.2 h1.4 M365.3,686.2 h-1.4 M371,653 V687.7 M370.5,653 h1.4 M371.5,687.7 h-1.4 M377.2,654.4 V688.8 M376.8,654.4 h1.4 M377.8,688.8 h-1.4 M383.5,655.8 V689.9 M383,655.8 h1.4 M384,689.9 h-1.4 M389.7,656.7 V691.5 M389.2,656.7 h1.4 M390.2,691.5 h-1.4 M395.9,658.3 V694 M395.4,658.3 h1.4 M396.4,694 h-1.4 M402.1,660.1 V696.7 M401.6,660.1 h1.4 M402.6,696.7 h-1.4 M408.4,662.1 V699.6 M407.9,662.1 h1.4 M408.9,699.6 h-1.4 M414.6,664.6 V702.9 M414.1,664.6 h1.4 M415.1,702.9 h-1.4 M420.8,667.1 V706.4 M420.3,667.1 h1.4 M421.3,706.4 h-1.4 M427.1,669.6 V709.7 M426.6,669.6 h1.4 M427.6,709.7 h-1.4 M433.3,671.5 V712.6 M432.8,671.5 h1.4 M433.8,712.6 h-1.4 M439.5,673.1 V715 M439,673.1 h1.4 M440,715 h-1.4 M445.7,674.1 V716.1 M445.2,674.1 h1.4 M446.2,716.1 h-1.4 M451.9,674.9 V716.9 M451.4,674.9 h1.4 M452.4,716.9 h-1.4 M458.2,675.1 V717.1 M457.7,675.1 h1.4 M458.7,717.1 h-1.4 M464.4,674.9 V716.9 M463.9,674.9 h1.4 M464.9,716.9 h-1.4 M470.6,674.5 V716.5 M470.1,674.5 h1.4 M471.1,716.5 h-1.4 M476.8,674 V716 M476.3,674 h1.4 M477.3,716 h-1.4" stroke="#2030ee" stroke-width="1.0" fill="none" opacity="0.8"/>
<path d="M66.5,564.7 V604.7 M66,564.7 h1.4 M67,604.7 h-1.4 M73.4,563.2 V603.2 M72.9,563.2 h1.4 M73.9,603.2 h-1.4 M80.3,562.4 V602.4 M79.8,562.4 h1.4 M80.8,602.4 h-1.4 M87.2,561.7 V601.7 M86.7,561.7 h1.4 M87.7,601.7 h-1.4 M94.1,561.3 V601.3 M93.6,561.3 h1.4 M94.6,601.3 h-1.4 M101,561 V601 M100.5,561 h1.4 M101.5,601 h-1.4 M115.8,549.1 V576.4 M115.3,549.1 h1.4 M116.3,576.4 h-1.4 M122,561.9 V588 M121.5,561.9 h1.4 M122.5,588 h-1.4 M128.2,573.6 V598.6 M127.8,573.6 h1.4 M128.8,598.6 h-1.4 M134.5,579.2 V603 M134,579.2 h1.4 M135,603 h-1.4 M140.7,583 V605.7 M140.2,583 h1.4 M141.2,605.7 h-1.4 M146.9,593 V614.6 M146.4,593 h1.4 M147.4,614.6 h-1.4 M153.1,605.4 V626.4 M152.6,605.4 h1.4 M153.6,626.4 h-1.4 M159.4,616.6 V637.8 M158.9,616.6 h1.4 M159.9,637.8 h-1.4 M165.6,624.3 V645.5 M165.1,624.3 h1.4 M166.1,645.5 h-1.4 M171.8,627.4 V648.6 M171.3,627.4 h1.4 M172.3,648.6 h-1.4 M178.1,625.8 V647.1 M177.6,625.8 h1.4 M178.6,647.1 h-1.4 M184.3,623.2 V644.6 M183.8,623.2 h1.4 M184.8,644.6 h-1.4 M190.5,621 V642.4 M190,621 h1.4 M191,642.4 h-1.4 M196.7,619.8 V641.3 M196.2,619.8 h1.4 M197.2,641.3 h-1.4 M202.9,619.5 V641.1 M202.4,619.5 h1.4 M203.4,641.1 h-1.4 M209.2,620.1 V641.7 M208.7,620.1 h1.4 M209.7,641.7 h-1.4 M215.4,620.4 V642.1 M214.9,620.4 h1.4 M215.9,642.1 h-1.4 M221.6,620.7 V642.5 M221.1,620.7 h1.4 M222.1,642.5 h-1.4 M227.8,621.1 V643 M227.3,621.1 h1.4 M228.3,643 h-1.4 M234.1,621.5 V643.4 M233.6,621.5 h1.4 M234.6,643.4 h-1.4 M240.3,622.1 V644.1 M239.8,622.1 h1.4 M240.8,644.1 h-1.4 M246.5,622.8 V644.9 M246,622.8 h1.4 M247,644.9 h-1.4 M252.8,623.6 V645.7 M252.2,623.6 h1.4 M253.2,645.7 h-1.4 M259,624.4 V646.6 M258.5,624.4 h1.4 M259.5,646.6 h-1.4 M265.2,625.2 V647.5 M264.7,625.2 h1.4 M265.7,647.5 h-1.4 M271.4,626.3 V648.6 M270.9,626.3 h1.4 M271.9,648.6 h-1.4 M277.6,628.3 V650.7 M277.1,628.3 h1.4 M278.1,650.7 h-1.4 M283.9,630.3 V652.8 M283.4,630.3 h1.4 M284.4,652.8 h-1.4 M290.1,632.3 V654.9 M289.6,632.3 h1.4 M290.6,654.9 h-1.4 M296.3,633.8 V656.4 M295.8,633.8 h1.4 M296.8,656.4 h-1.4 M302.6,635.3 V658 M302.1,635.3 h1.4 M303.1,658 h-1.4 M308.8,636.7 V659.5 M308.3,636.7 h1.4 M309.3,659.5 h-1.4 M315,636.8 V659.6 M314.5,636.8 h1.4 M315.5,659.6 h-1.4 M321.2,636.6 V659.5 M320.7,636.6 h1.4 M321.7,659.5 h-1.4 M327.4,636 V659 M326.9,636 h1.4 M327.9,659 h-1.4 M333.7,630.5 V654.2 M333.2,630.5 h1.4 M334.2,654.2 h-1.4 M339.9,624.1 V649.1 M339.4,624.1 h1.4 M340.4,649.1 h-1.4 M346.1,621.1 V647.4 M345.6,621.1 h1.4 M346.6,647.4 h-1.4 M352.3,619.6 V647.1 M351.8,619.6 h1.4 M352.8,647.1 h-1.4 M358.6,618.5 V647.3 M358.1,618.5 h1.4 M359.1,647.3 h-1.4 M364.8,617.5 V647.6 M364.3,617.5 h1.4 M365.3,647.6 h-1.4 M371,615.6 V647 M370.5,615.6 h1.4 M371.5,647 h-1.4 M377.2,613 V645.6 M376.8,613 h1.4 M377.8,645.6 h-1.4 M383.5,608.9 V642.8 M383,608.9 h1.4 M384,642.8 h-1.4 M389.7,604.6 V640 M389.2,604.6 h1.4 M390.2,640 h-1.4 M395.9,600 V637.1 M395.4,600 h1.4 M396.4,637.1 h-1.4 M402.1,595.5 V634.2 M401.6,595.5 h1.4 M402.6,634.2 h-1.4 M408.4,591.4 V631.7 M407.9,591.4 h1.4 M408.9,631.7 h-1.4 M414.6,587.1 V629 M414.1,587.1 h1.4 M415.1,629 h-1.4 M420.8,583.1 V625.8 M420.3,583.1 h1.4 M421.3,625.8 h-1.4 M427.1,578.8 V622.2 M426.6,578.8 h1.4 M427.6,622.2 h-1.4 M433.3,574.2 V618.3 M432.8,574.2 h1.4 M433.8,618.3 h-1.4 M439.5,569.5 V614.3 M439,569.5 h1.4 M440,614.3 h-1.4 M445.7,565 V610.5 M445.2,565 h1.4 M446.2,610.5 h-1.4 M451.9,560.7 V606.7 M451.4,560.7 h1.4 M452.4,606.7 h-1.4 M458.2,556.5 V602.5 M457.7,556.5 h1.4 M458.7,602.5 h-1.4 M464.4,552.3 V598.3 M463.9,552.3 h1.4 M464.9,598.3 h-1.4 M470.6,548.1 V594.1 M470.1,548.1 h1.4 M471.1,594.1 h-1.4 M476.8,544.2 V590.2 M476.3,544.2 h1.4 M477.3,590.2 h-1.4" stroke="#33dd33" stroke-width="1.0" fill="none" opacity="0.8"/>
<path d="M59.5,598 C62.9,597.6 72.4,596.5 80,595.8 C87.6,595 100.6,596.8 105,593.5 C109.4,590.2 105.8,578.4 106.2,576 C106.6,573.6 107,577.2 107.5,579 C108,580.8 108.2,585.1 109,587 C109.8,588.9 110.7,589.7 112,590.6 C113.3,591.5 115.3,592.1 117,592.2 C118.7,592.3 120.3,591.5 122,591.1 C123.7,590.7 125.2,589.9 127,589.8 C128.8,589.7 130,590.1 133,590.6 C136,591.1 140.5,592.3 145,593 C149.5,593.7 154.2,594.2 160,594.6 C165.8,595 173.3,595.4 180,595.5 C186.7,595.6 193.3,595.5 200,595.4 C206.7,595.3 213.3,594.3 220,595 C226.7,595.7 233.3,598.4 240,599.6 C246.7,600.8 253.3,601.2 260,602.4 C266.7,603.6 273.3,605.2 280,606.6 C286.7,608 292.8,610 300,610.9 C307.2,611.8 319.6,611.8 323.5,612" stroke="#ff0000" stroke-width="4.6" fill="none" stroke-linejoin="round" stroke-linecap="round"/>
<path d="M325,589 C325.3,590.2 326.2,593.7 327,596 C327.8,598.3 329,600.8 330,603 C331,605.2 332,607.9 333,609.5 C334,611.1 334.8,612 336,612.8 C337.2,613.6 338.5,613.9 340,614.3 C341.5,614.7 341.7,614.9 345,615.3 C348.3,615.7 355.8,616.2 360,616.5 C364.2,616.8 366.7,616.8 370,617.2 C373.3,617.7 376.7,618.6 380,619.2 C383.3,619.8 386.7,620.3 390,620.8 C393.3,621.2 396.7,621.5 400,621.9 C403.3,622.2 406.7,622.6 410,622.9 C413.3,623.2 415,623.4 420,623.5 C425,623.6 429.3,623.6 440,623.8 C450.7,624 476.7,624.4 484,624.5" stroke="#ff0000" stroke-width="4.6" fill="none" stroke-linejoin="round" stroke-linecap="round"/>
<path d="M59.5,593 C62.9,592.5 72.5,590.9 80,590.2 C87.5,589.5 100.1,593 104.5,588.8 C108.9,584.6 105.6,569.6 106.2,565 C106.8,560.4 107.2,561.3 108,561 C108.8,560.7 109.8,561.3 111,563 C112.2,564.7 113.5,568.4 115,571 C116.5,573.6 118.3,576.7 120,578.8 C121.7,580.9 123.3,581.7 125,583.5 C126.7,585.3 128.3,587.4 130,589.8 C131.7,592.2 133.3,596.1 135,598 C136.7,599.9 137.5,600.6 140,601.3 C142.5,602 145.8,601.8 150,602 C154.2,602.2 160.8,602.7 165,602.5 C169.2,602.3 172.5,601.6 175,601 C177.5,600.4 177.5,599.2 180,598.6 C182.5,598 185,597.4 190,597.2 C195,597 205,597.1 210,597.2 C215,597.3 216.7,597.6 220,598 C223.3,598.4 226.7,598.7 230,599.4 C233.3,600.1 236.7,601.2 240,602.4 C243.3,603.6 246.7,605.2 250,606.5 C253.3,607.8 256.7,608.7 260,610 C263.3,611.3 265,611.8 270,614.5 C275,617.2 283.3,622.1 290,626 C296.7,629.9 304.7,634.8 310,638 C315.3,641.2 318.7,642.7 322,645 C325.3,647.3 327,649.2 330,651.6 C333,654 335.8,657.1 340,659.5 C344.2,661.9 350,664.2 355,666 C360,667.8 364.2,668.7 370,670.1 C375.8,671.5 385,673 390,674.2 C395,675.4 396.7,676.3 400,677.5 C403.3,678.7 406.7,680 410,681.5 C413.3,683 416.7,684.8 420,686.4 C423.3,688 426.7,689.7 430,691 C433.3,692.3 436.7,693.4 440,694.2 C443.3,695 446.7,695.5 450,695.8 C453.3,696.1 456.7,696.2 460,696.2 C463.3,696.2 466,695.8 470,695.5 C474,695.2 481.7,694.7 484,694.5" stroke="#0000ff" stroke-width="5" fill="none" stroke-linejoin="round" stroke-linecap="round"/>
<path d="M109.8,562 V551" stroke="#5555ee" stroke-width="1.6"/>
<path d="M59.5,587 C61.2,586.4 65.8,584.5 70,583.6 C74.2,582.7 80,582.2 85,581.8 C90,581.4 96.6,581.1 100,581 C103.4,580.9 104.6,581 105.5,581" stroke="#22ee22" stroke-width="3.6" fill="none" stroke-linejoin="round" stroke-linecap="round"/>
<path d="M113,558 C113.8,559.4 116.3,563.3 118,566.5 C119.7,569.7 121.5,574 123,577 C124.5,580 125.7,582.4 127,584.5 C128.3,586.6 129.5,588.3 131,589.5 C132.5,590.7 134.3,591 136,591.8 C137.7,592.6 139.5,593.1 141,594.5 C142.5,595.9 143.5,597.5 145,600 C146.5,602.5 148.3,606.5 150,609.8 C151.7,613 153.3,616.4 155,619.5 C156.7,622.6 158.3,625.8 160,628.3 C161.7,630.8 163.3,632.9 165,634.5 C166.7,636.1 168.3,637.4 170,638 C171.7,638.6 173.3,638.4 175,638 C176.7,637.6 177.5,636.4 180,635.4 C182.5,634.4 186.7,632.7 190,631.8 C193.3,630.9 196.7,630.1 200,630 C203.3,629.9 206.7,630.8 210,631 C213.3,631.2 215.8,631.2 220,631.5 C224.2,631.8 230,632 235,632.5 C240,633 244.2,633.5 250,634.3 C255.8,635 263.3,635.5 270,637 C276.7,638.5 283.3,641.7 290,643.6 C296.7,645.5 304.7,647.7 310,648.4 C315.3,649.1 319.2,648.1 322,648 C324.8,647.9 325.5,648.3 327,647.8 C328.5,647.3 329.7,646.1 331,645 C332.3,643.9 333.5,642.4 335,641 C336.5,639.6 338.3,637.6 340,636.5 C341.7,635.4 343.3,635 345,634.5 C346.7,634 346.7,633.8 350,633.5 C353.3,633.2 360.8,633 365,632.5 C369.2,632 371.7,631.8 375,630.5 C378.3,629.2 382.2,626.6 385,625 C387.8,623.4 389.5,622.5 392,621 C394.5,619.5 397,617.7 400,616 C403,614.3 406.7,612.5 410,610.7 C413.3,608.9 416.7,607 420,605 C423.3,603 426.7,600.9 430,598.6 C433.3,596.4 436.7,593.8 440,591.5 C443.3,589.2 446.7,587.2 450,585 C453.3,582.8 456.7,580.5 460,578.3 C463.3,576 466.3,573.9 470,571.5 C473.7,569.1 480,565.2 482,564" stroke="#22ee22" stroke-width="3.6" fill="none" stroke-linejoin="round" stroke-linecap="round"/>
<path d="M109.8,510 V529 M108.6,510 h2.4" stroke="#66dd66" stroke-width="1" fill="none"/>
<path d="M105.5,560 L107,545.4 L109.8,528.9 L111.8,534.4 L111.3,541.5 L113.3,548.5 L114.5,555.2 L115.5,562" stroke="#33dd33" stroke-width="1.5" fill="none"/>
<path d="M116.4,546 V560 M115.2,546 h2.4" stroke="#44cc44" stroke-width="1" fill="none"/>
<circle cx="109.8" cy="528.9" r="1.7" fill="#33dd33"/>
<circle cx="111.8" cy="534.4" r="1.7" fill="#33dd33"/>
<circle cx="111.3" cy="541.5" r="1.7" fill="#33dd33"/>
<circle cx="113.3" cy="548.5" r="1.7" fill="#33dd33"/>
<circle cx="114.5" cy="555.2" r="1.7" fill="#33dd33"/>
<circle cx="107" cy="545.4" r="1.7" fill="#33dd33"/>
<circle cx="108.5" cy="537" r="1.7" fill="#33dd33"/>
<circle cx="105.2" cy="557.6" r="2.3" fill="#44cc22" stroke="#aa2200" stroke-width="0.8"/>
<circle cx="106" cy="577.2" r="1.8" fill="#ff0000"/>
<rect x="322.8" y="586.3" width="4.6" height="4.6" fill="#ff0000"/>
<path d="M324.3,646 L325,628 L326,624 L327.5,640 L328.5,651" stroke="#0000ee" stroke-width="1.6" fill="none"/>
<path d="M324.8,648 L325.5,630 L326.5,623.5 L327.3,636 L328.3,647" stroke="#22ee22" stroke-width="1.3" fill="none"/>
<circle cx="326" cy="624.5" r="1.3" fill="#22cc22"/>
<circle cx="326.5" cy="630" r="1.3" fill="#22cc22"/>
<circle cx="325.5" cy="636" r="1.3" fill="#22cc22"/>
<circle cx="327" cy="641" r="1.3" fill="#22cc22"/>
<path d="M107.8,655.2 V620.5 M100.8,631.5 L107.8,619.8 L114.8,631.5" stroke="#5a80c0" stroke-width="1.9" fill="none"/>
<text x="271.6" y="512.3" font-size="16.3" fill="#d8101a" stroke="#d8101a" stroke-width="0.45" textLength="52.8" lengthAdjust="spacingAndGlyphs">Vehicle</text>
<text x="271.6" y="534" font-size="16.3" fill="#2ed82e" stroke="#2ed82e" stroke-width="0.45" textLength="91.6" lengthAdjust="spacingAndGlyphs">IL1β 5ng/mL</text>
<text x="271.6" y="555.5" font-size="16.3" fill="#0a0ac0" stroke="#0a0ac0" stroke-width="0.45" textLength="100" lengthAdjust="spacingAndGlyphs">TNFα 5ng/mL</text>
</svg></body></html>
